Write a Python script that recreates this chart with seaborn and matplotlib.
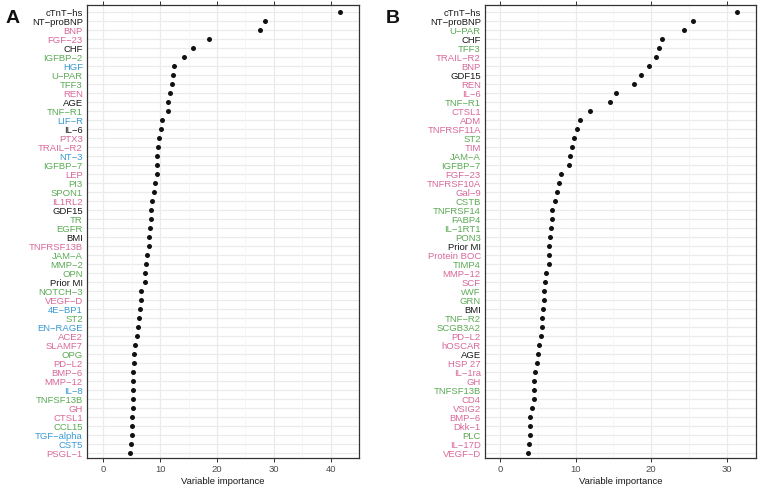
import matplotlib
matplotlib.use("Agg")
import matplotlib.pyplot as plt
import seaborn as sns
import pandas as pd

M = "\u2212"

labels_a = ["cTnT-hs", "NT-proBNP", "BNP", "FGF-23", "CHF", "IGFBP-2", "HGF", "U-PAR", "TFF3", "REN",
            "AGE", "TNF-R1", "LIF-R", "IL-6", "PTX3", "TRAIL-R2", "NT-3", "IGFBP-7", "LEP", "PI3",
            "SPON1", "IL1RL2", "GDF15", "TR", "EGFR", "BMI", "TNFRSF13B", "JAM-A", "MMP-2", "OPN",
            "Prior MI", "NOTCH-3", "VEGF-D", "4E-BP1", "ST2", "EN-RAGE", "ACE2", "SLAMF7", "OPG", "PD-L2",
            "BMP-6", "MMP-12", "IL-8", "TNFSF13B", "GH", "CTSL1", "CCL15", "TGF-alpha", "CST5", "PSGL-1"]
values_a = [41.6, 28.5, 27.6, 18.5, 15.7, 14.2, 12.4, 12.2, 12.0, 11.7,
            11.4, 11.3, 10.3, 10.1, 9.8, 9.56, 9.45, 9.39, 9.35, 9.04,
            8.92, 8.5, 8.45, 8.33, 8.21, 8.1, 7.98, 7.63, 7.45, 7.4,
            7.27, 6.6, 6.55, 6.45, 6.22, 6.16, 5.93, 5.58, 5.4, 5.34,
            5.28, 5.22, 5.16, 5.14, 5.12, 5.05, 5.0, 4.94, 4.88, 4.7]
groups_a = ["k", "k", "p", "p", "k", "g", "b", "g", "g", "p",
            "k", "g", "b", "k", "p", "p", "b", "g", "p", "g",
            "g", "p", "k", "g", "g", "k", "p", "g", "g", "g",
            "k", "g", "p", "b", "g", "b", "p", "p", "g", "p",
            "p", "p", "b", "g", "p", "p", "g", "b", "b", "p"]

labels_b = ["cTnT-hs", "NT-proBNP", "U-PAR", "CHF", "TFF3", "TRAIL-R2", "BNP", "GDF15", "REN", "IL-6",
            "TNF-R1", "CTSL1", "ADM", "TNFRSF11A", "ST2", "TIM", "JAM-A", "IGFBP-7", "FGF-23", "TNFRSF10A",
            "Gal-9", "CSTB", "TNFRSF14", "FABP4", "IL-1RT1", "PON3", "Prior MI", "Protein BOC", "TIMP4", "MMP-12",
            "SCF", "vWF", "GRN", "BMI", "TNF-R2", "SCGB3A2", "PD-L2", "hOSCAR", "AGE", "HSP 27",
            "IL-1ra", "GH", "TNFSF13B", "CD4", "VSIG2", "BMP-6", "Dkk-1", "PLC", "IL-17D", "VEGF-D"]
values_b = [31.4, 25.6, 24.3, 21.4, 21.0, 20.7, 19.7, 18.6, 17.8, 15.3,
            14.5, 11.9, 10.54, 10.23, 9.79, 9.48, 9.26, 9.17, 8.03, 7.81,
            7.54, 7.28, 6.88, 6.84, 6.8, 6.62, 6.53, 6.48, 6.44, 6.09,
            5.95, 5.87, 5.78, 5.73, 5.6, 5.56, 5.43, 5.12, 4.98, 4.9,
            4.63, 4.5, 4.48, 4.45, 4.28, 3.97, 3.95, 3.92, 3.8, 3.75]
groups_b = ["k", "k", "g", "k", "g", "p", "p", "k", "p", "p",
            "g", "p", "p", "p", "g", "p", "g", "g", "p", "p",
            "p", "g", "g", "g", "g", "g", "k", "p", "g", "p",
            "p", "g", "g", "k", "g", "g", "p", "p", "k", "p",
            "p", "p", "g", "p", "p", "p", "p", "g", "p", "p"]

palette = {"k": "#1a1a1a", "p": "#D9689A", "g": "#5BAA55", "b": "#3A99D3"}

sns.set_theme(style="white")
plt.rcParams["font.family"] = ["Liberation Sans", "DejaVu Sans"]

fig = plt.figure(figsize=(7.6, 4.9), dpi=100)

def panel(rect, labels, values, groups, xlim, letter, letter_x):
    ax = fig.add_axes(rect)
    disp = [s.replace("-", M) for s in labels]
    df = pd.DataFrame({"label": disp, "value": values})
    sns.stripplot(data=df, x="value", y="label", order=disp, jitter=False,
                  color="#111111", size=3.6, linewidth=0, ax=ax, zorder=3)
    ax.set_xlim(*xlim)
    ax.set_ylim(len(labels) - 0.45, -0.78)
    ax.set_xticks([0, 10, 20, 30, 40] if xlim[1] > 40 else [0, 10, 20, 30])
    ax.set_ylabel("")
    ax.set_xlabel("Variable importance", fontsize=6.8, color="#1a1a1a", labelpad=2)
    for y in range(len(labels)):
        ax.axhline(y, color="#EBEBEB", lw=0.9, zorder=0)
    for xv in ax.get_xticks():
        ax.axvline(xv, color="#EBEBEB", lw=0.9, zorder=0)
    for xv in [5, 15, 25, 35]:
        if xlim[0] < xv < xlim[1]:
            ax.axvline(xv, color="#F4F4F4", lw=0.6, zorder=0)
    ax.grid(False)
    for sp in ax.spines.values():
        sp.set_color("#333333")
        sp.set_linewidth(0.9)
        sp.set_visible(True)
    ax.tick_params(axis="y", length=0, pad=3, labelsize=6.8)
    ax.tick_params(axis="x", length=3, width=0.7, color="#333333", pad=2,
                   labelsize=6.8, labelcolor="#4D4D4D", bottom=True, top=True)
    for t, g in zip(ax.get_yticklabels(), groups):
        t.set_color(palette[g])
    fig.text(letter_x, 0.962, letter, fontsize=14, fontweight="bold",
             ha="left", va="center", color="#111111")
    return ax

panel([87 / 760, 32 / 490, 272 / 760, 453 / 490], labels_a, values_a, groups_a,
      (-2.9, 45.0), "A", 6 / 760)
panel([485 / 760, 32 / 490, 271 / 760, 453 / 490], labels_b, values_b, groups_b,
      (-2.0, 33.9), "B", 386 / 760)

fig.savefig("out.png", dpi=100)
